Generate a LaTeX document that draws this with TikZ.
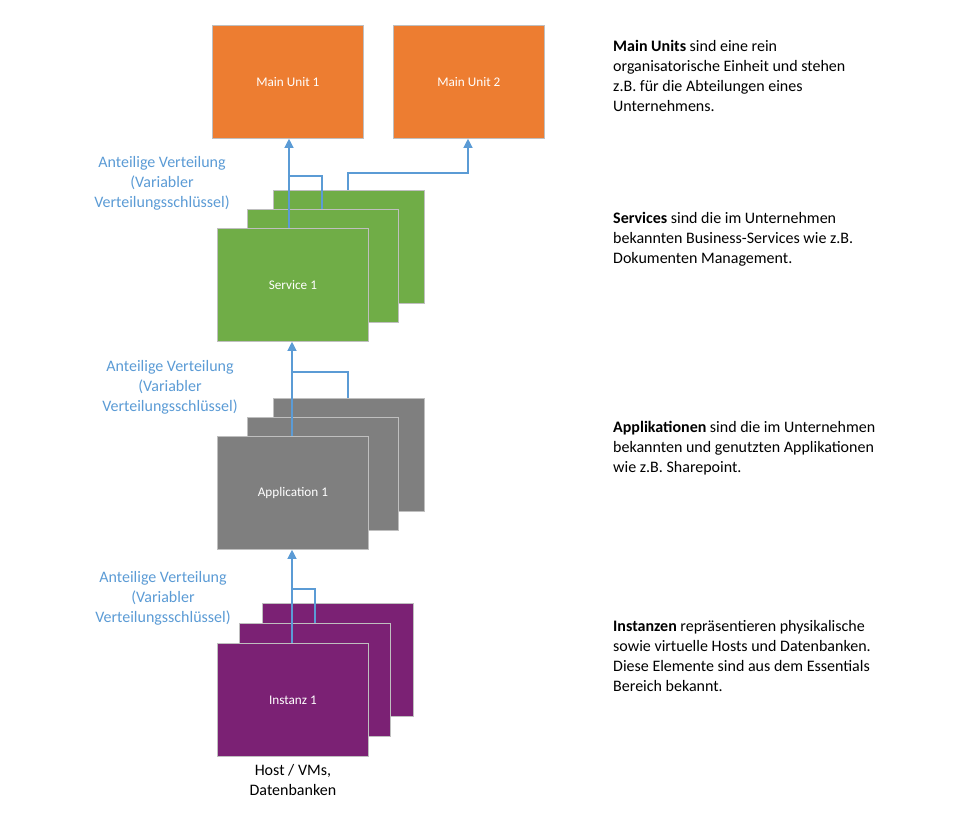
\documentclass[tikz,border=0pt]{standalone}
\usepackage{fontspec}
\setmainfont{Carlito}
\usetikzlibrary{positioning,arrows.meta}
\definecolor{mainorange}{HTML}{ED7D31}
\definecolor{svcgreen}{HTML}{70AD47}
\definecolor{appgray}{HTML}{7F7F7F}
\definecolor{instpurple}{HTML}{7B2174}
\definecolor{linkblue}{HTML}{5B9BD5}
\tikzset{
  unit/.style={draw=black!25,line width=0.8pt,fill=#1,minimum width=151pt,minimum height=113pt,
    anchor=north west,inner sep=0pt,text=white,font=\fontsize{13.2}{15}\selectfont},
  link/.style={draw=linkblue,line width=1.2pt},
  uparrow/.style={link,-{Triangle[length=9pt,width=9pt]}},
  linklabel/.style={text=linkblue,align=center,font=\fontsize{16}{20}\selectfont},
  info/.style={anchor=north west,align=left,font=\fontsize{16}{20}\selectfont,inner sep=0pt}
}
\begin{document}
\begin{tikzpicture}[x=1pt,y=-1pt]
\useasboundingbox (0,0) rectangle (967,826);
% main units
\node [unit=mainorange] (mu1) at (212,25) {Main Unit 1};
\node [unit=mainorange] (mu2) at (393,25) {Main Unit 2};
% services
\node [unit=svcgreen] (svc3) at (273,190) {};
\node [unit=svcgreen] (svc2) at (247,209) {};
\node [unit=svcgreen] (svc1) at (217,228) {Service 1};
% applications
\node [unit=appgray] (app3) at (273,398) {};
\node [unit=appgray] (app2) at (247,417) {};
\node [unit=appgray] (app1) at (217,436) {Application 1};
% instances
\node [unit=instpurple] (inst3) at (262,603) {};
\node [unit=instpurple] (inst2) at (239,623) {};
\node [unit=instpurple] (inst1) at (217,643) {Instanz 1};
\node [align=center,font=\fontsize{16}{20}\selectfont,below=4pt of inst1] (hosts) {Host / VMs,\\Datenbanken};
% connectors
\draw [uparrow] (svc1.north -| 289,0) -- (mu1.south -| 289,0);
\draw [link] (289,176) -| (svc2.north -| 322,0);
\draw [uparrow] (svc3.north -| 348,0) |- (468,173) -- (mu2.south -| 468,0);
\draw [uparrow] (app1.north -| 292,0) -- (svc1.south -| 292,0);
\draw [link] (292,372) -| (app3.north -| 348,0);
\draw [uparrow] (inst1.north -| 292,0) -- (app1.south -| 292,0);
\draw [link] (292,589) -| (inst2.north -| 315,0);
% labels
\node [linklabel] (lbl1) at (162,183) {Anteilige Verteilung\\(Variabler\\Verteilungsschlüssel)};
\node [linklabel] (lbl2) at (170,387) {Anteilige Verteilung\\(Variabler\\Verteilungsschlüssel)};
\node [linklabel] (lbl3) at (163,598) {Anteilige Verteilung\\(Variabler\\Verteilungsschlüssel)};
% descriptions
\node [info] (txt1) at (613,40) {\textbf{Main Units} sind eine rein\\organisatorische Einheit und stehen\\z.B. für die Abteilungen eines\\Unternehmens.};
\node [info] (txt2) at (613,212) {\textbf{Services} sind die im Unternehmen\\bekannten Business-Services wie z.B.\\Dokumenten Management.};
\node [info] (txt3) at (613,421) {\textbf{Applikationen} sind die im Unternehmen\\bekannten und genutzten Applikationen\\wie z.B. Sharepoint.};
\node [info] (txt4) at (613,620) {\textbf{Instanzen} repräsentieren physikalische\\sowie virtuelle Hosts und Datenbanken.\\Diese Elemente sind aus dem Essentials\\Bereich bekannt.};
\end{tikzpicture}
\end{document}
